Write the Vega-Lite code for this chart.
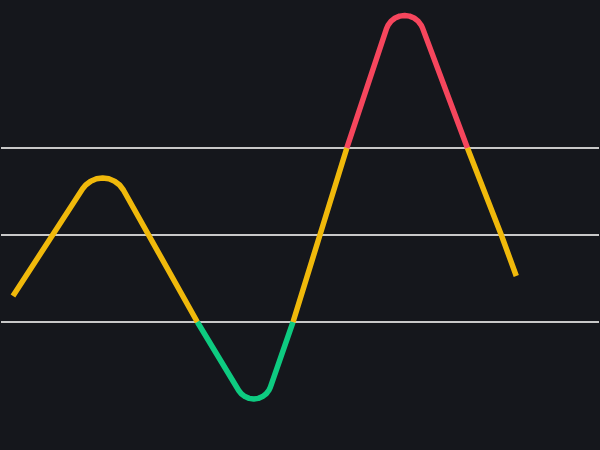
{
  "$schema": "https://vega.github.io/schema/vega-lite/v6.json",
  "width": 600,
  "height": 450,
  "autosize": {"type": "fit", "contains": "padding"},
  "padding": 0,
  "background": "#15171c",
  "datasets": {
    "levels": [{"level": 70}, {"level": 50}, {"level": 30}],
    "rsi": [
      {"t": 12, "rsi": 35.98, "seg": "a", "zone": "mid"},
      {"t": 81.9, "rsi": 60.61, "seg": "a", "zone": "mid"},
      {"t": 85, "rsi": 61.49, "seg": "a", "zone": "mid"},
      {"t": 90, "rsi": 62.36, "seg": "a", "zone": "mid"},
      {"t": 95.8, "rsi": 62.91, "seg": "a", "zone": "mid"},
      {"t": 102, "rsi": 63.1, "seg": "a", "zone": "mid"},
      {"t": 108.2, "rsi": 62.91, "seg": "a", "zone": "mid"},
      {"t": 114, "rsi": 62.36, "seg": "a", "zone": "mid"},
      {"t": 119, "rsi": 61.49, "seg": "a", "zone": "mid"},
      {"t": 122.8, "rsi": 60.34, "seg": "a", "zone": "mid"},
      {"t": 197, "rsi": 30.0, "seg": "a", "zone": "mid"},
      {"t": 197, "rsi": 30.0, "seg": "b", "zone": "low"},
      {"t": 238.5, "rsi": 14.25, "seg": "b", "zone": "low"},
      {"t": 241.1, "rsi": 13.49, "seg": "b", "zone": "low"},
      {"t": 244.8, "rsi": 12.85, "seg": "b", "zone": "low"},
      {"t": 249, "rsi": 12.44, "seg": "b", "zone": "low"},
      {"t": 253.6, "rsi": 12.3, "seg": "b", "zone": "low"},
      {"t": 258.2, "rsi": 12.44, "seg": "b", "zone": "low"},
      {"t": 262.4, "rsi": 12.85, "seg": "b", "zone": "low"},
      {"t": 266.1, "rsi": 13.49, "seg": "b", "zone": "low"},
      {"t": 268.9, "rsi": 14.32, "seg": "b", "zone": "low"},
      {"t": 270.3, "rsi": 15.03, "seg": "b", "zone": "low"},
      {"t": 293, "rsi": 30.0, "seg": "b", "zone": "low"},
      {"t": 293, "rsi": 30.0, "seg": "c", "zone": "mid"},
      {"t": 320, "rsi": 50.0, "seg": "c", "zone": "mid"},
      {"t": 347, "rsi": 70.0, "seg": "c", "zone": "mid"},
      {"t": 347, "rsi": 70.0, "seg": "d", "zone": "high"},
      {"t": 386.8, "rsi": 97.46, "seg": "d", "zone": "high"},
      {"t": 388.4, "rsi": 98.26, "seg": "d", "zone": "high"},
      {"t": 391.4, "rsi": 99.17, "seg": "d", "zone": "high"},
      {"t": 395.4, "rsi": 99.87, "seg": "d", "zone": "high"},
      {"t": 400, "rsi": 100.31, "seg": "d", "zone": "high"},
      {"t": 405, "rsi": 100.46, "seg": "d", "zone": "high"},
      {"t": 409.9, "rsi": 100.31, "seg": "d", "zone": "high"},
      {"t": 414.5, "rsi": 99.87, "seg": "d", "zone": "high"},
      {"t": 418.5, "rsi": 99.17, "seg": "d", "zone": "high"},
      {"t": 421.5, "rsi": 98.26, "seg": "d", "zone": "high"},
      {"t": 422.9, "rsi": 97.61, "seg": "d", "zone": "high"},
      {"t": 468, "rsi": 70.0, "seg": "d", "zone": "high"},
      {"t": 468, "rsi": 70.0, "seg": "e", "zone": "mid"},
      {"t": 502, "rsi": 50.0, "seg": "e", "zone": "mid"},
      {"t": 517, "rsi": 40.57, "seg": "e", "zone": "mid"}
    ]
  },
  "layer": [
    {
      "data": {"name": "levels"},
      "mark": {"type": "rule", "color": "#c8c8c8", "strokeWidth": 2},
      "encoding": {
        "y": {
          "field": "level",
          "type": "quantitative",
          "scale": {"domain": [0.57, 104.02], "nice": false, "zero": false},
          "axis": null
        }
      }
    },
    {
      "data": {"name": "rsi"},
      "mark": {
        "type": "line",
        "strokeWidth": 5.5,
        "strokeJoin": "round",
        "interpolate": "linear"
      },
      "encoding": {
        "x": {
          "field": "t",
          "type": "quantitative",
          "scale": {"domain": [0, 600], "nice": false, "zero": false},
          "axis": null
        },
        "y": {
          "field": "rsi",
          "type": "quantitative",
          "scale": {"domain": [0.57, 104.02], "nice": false, "zero": false},
          "axis": null
        },
        "detail": {"field": "seg", "type": "nominal"},
        "color": {
          "field": "zone",
          "type": "nominal",
          "scale": {
            "domain": ["mid", "low", "high"],
            "range": ["#f0b90b", "#0ecb81", "#f6465d"]
          },
          "legend": null
        }
      }
    }
  ],
  "config": {
    "view": {"stroke": null}
  }
}
